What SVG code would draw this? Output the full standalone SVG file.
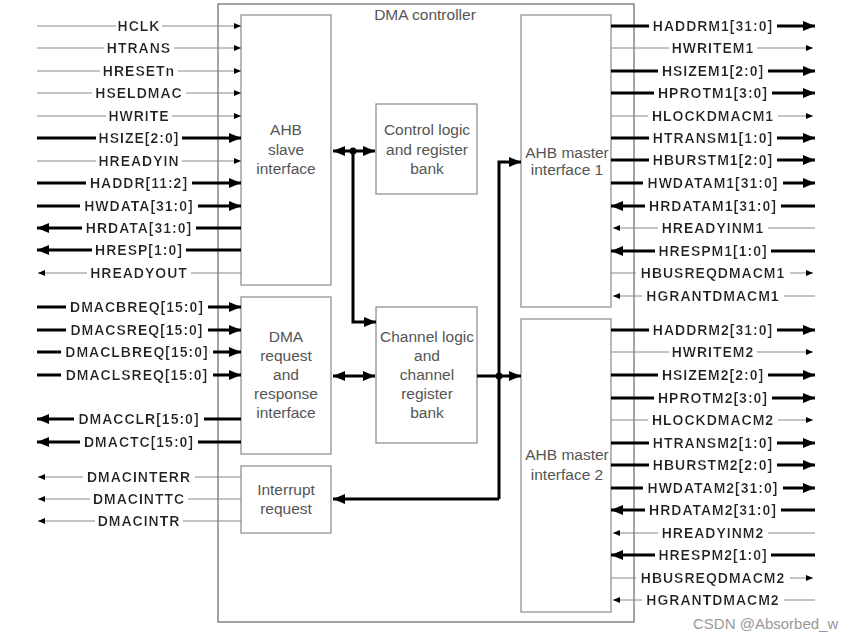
<svg xmlns="http://www.w3.org/2000/svg" width="853" height="640" viewBox="0 0 853 640">
<style>
.box{fill:#fff;stroke:#888;stroke-width:1.2}
.outer{fill:none;stroke:#666;stroke-width:1.2}
.in{font-family:"Liberation Sans",Arial,sans-serif;font-size:15.5px;fill:#555;text-anchor:middle}
.sig{font-family:"Liberation Sans",Arial,sans-serif;font-size:14px;font-weight:bold;fill:#222;text-anchor:middle;letter-spacing:1px;filter:url(#bg)}
.thk{stroke:#000;stroke-width:3;fill:none}
.thn{stroke:#888;stroke-width:1;fill:none}
.ta{marker-end:url(#bigA)}
.na{marker-end:url(#smA)}
.wm{font-family:"Liberation Sans",Arial,sans-serif;font-size:15px;fill:#999}
</style>
<defs>
<filter id="bg" x="-0.03" y="-0.05" width="1.06" height="1.1"><feFlood flood-color="#fff"/><feComposite in="SourceGraphic"/></filter>
<marker id="bigA" markerUnits="userSpaceOnUse" markerWidth="13" markerHeight="11" refX="12" refY="5" orient="auto-start-reverse"><path d="M0,0 L12,5 L0,10 z" fill="#000"/></marker>
<marker id="smA" markerUnits="userSpaceOnUse" markerWidth="8" markerHeight="7" refX="7" refY="3" orient="auto-start-reverse"><path d="M0,0 L7,3 L0,6 z" fill="#000"/></marker>
</defs>
<rect width="853" height="640" fill="#fff"/>
<g id="dma-controller"><rect class="outer" x="218" y="4" width="416" height="618"/><text class="in" x="425" y="20">DMA controller</text></g>
<g id="ahb-slave"><rect class="box" x="241" y="15" width="90" height="270"/><text class="in" x="286" y="135">AHB</text><text class="in" x="286" y="155">slave</text><text class="in" x="286" y="174">interface</text></g>
<g id="dma-request"><rect class="box" x="241" y="297" width="90" height="157"/><text class="in" x="286" y="342">DMA</text><text class="in" x="286" y="361">request</text><text class="in" x="286" y="380">and</text><text class="in" x="286" y="399">response</text><text class="in" x="286" y="418">interface</text></g>
<g id="interrupt-request"><rect class="box" x="241" y="466" width="90" height="67"/><text class="in" x="286" y="495">Interrupt</text><text class="in" x="286" y="514">request</text></g>
<g id="control-logic"><rect class="box" x="376" y="104" width="101" height="90"/><text class="in" x="427" y="135">Control logic</text><text class="in" x="427" y="155">and register</text><text class="in" x="427" y="174">bank</text></g>
<g id="channel-logic"><rect class="box" x="376" y="307" width="101" height="136"/><text class="in" x="427" y="342">Channel logic</text><text class="in" x="427" y="361">and</text><text class="in" x="427" y="380">channel</text><text class="in" x="427" y="399">register</text><text class="in" x="427" y="418">bank</text></g>
<g id="ahb-master-1"><rect class="box" x="521" y="15" width="90" height="292"/><text class="in" x="567" y="158">AHB master</text><text class="in" x="567" y="175">interface 1</text></g>
<g id="ahb-master-2"><rect class="box" x="521" y="319" width="90" height="293"/><text class="in" x="567" y="460">AHB master</text><text class="in" x="567" y="480">interface 2</text></g>
<g id="connectors">
<path class="thk" d="M333,151 H375" marker-start="url(#bigA)" marker-end="url(#bigA)"/>
<path class="thk ta" d="M353,151 V322 H376"/>
<circle cx="353" cy="151" r="3.5"/>
<path class="thk" d="M333,376 H375" marker-start="url(#bigA)" marker-end="url(#bigA)"/>
<path class="thk ta" d="M477,376 H521"/>
<path class="thk ta" d="M499,499 V162 H521"/>
<path class="thk ta" d="M499,499 H333"/>
<circle cx="499" cy="376" r="3.5"/>
<path class="thn na" d="M37,26 H241"/><path class="thn na" d="M37,48 H241"/><path class="thn na" d="M37,71 H241"/><path class="thn na" d="M37,93 H241"/><path class="thn na" d="M37,116 H241"/>
<path class="thk ta" d="M37,138 H241"/><path class="thn na" d="M37,161 H241"/><path class="thk ta" d="M37,183 H241"/><path class="thk ta" d="M37,206 H241"/>
<path class="thk ta" d="M241,228 H37"/><path class="thk ta" d="M241,250 H37"/><path class="thn na" d="M241,273 H38"/>
<path class="thk ta" d="M37,307 H241"/><path class="thk ta" d="M37,330 H241"/><path class="thk ta" d="M37,352 H241"/><path class="thk ta" d="M37,375 H241"/>
<path class="thk ta" d="M241,419 H37"/><path class="thk ta" d="M241,442 H37"/>
<path class="thn na" d="M241,477 H38"/><path class="thn na" d="M241,499 H38"/><path class="thn na" d="M241,521 H38"/>
<path class="thk ta" d="M611,26 H815"/><path class="thn na" d="M611,48 H813"/><path class="thk ta" d="M611,71 H815"/><path class="thk ta" d="M611,93 H815"/><path class="thn na" d="M611,116 H813"/><path class="thk ta" d="M611,138 H815"/><path class="thk ta" d="M611,160 H815"/><path class="thk ta" d="M611,183 H815"/>
<path class="thk ta" d="M815,206 H611"/><path class="thn na" d="M815,228 H613"/><path class="thk ta" d="M815,251 H611"/><path class="thn na" d="M611,273 H813"/><path class="thn na" d="M815,296 H613"/>
<path class="thk ta" d="M611,330 H815"/><path class="thn na" d="M611,352 H813"/><path class="thk ta" d="M611,375 H815"/><path class="thk ta" d="M611,398 H815"/><path class="thn na" d="M611,420 H813"/><path class="thk ta" d="M611,443 H815"/><path class="thk ta" d="M611,465 H815"/><path class="thk ta" d="M611,488 H815"/>
<path class="thk ta" d="M815,510 H611"/><path class="thn na" d="M815,533 H613"/><path class="thk ta" d="M815,555 H611"/><path class="thn na" d="M611,578 H813"/><path class="thn na" d="M815,600 H613"/>
</g>
<g id="signal-labels">
<text class="sig" x="139" y="31">HCLK</text><text class="sig" x="139" y="53">HTRANS</text><text class="sig" x="139" y="76">HRESETn</text><text class="sig" x="139" y="98">HSELDMAC</text><text class="sig" x="139" y="121">HWRITE</text><text class="sig" x="139" y="143">HSIZE[2:0]</text><text class="sig" x="139" y="166">HREADYIN</text><text class="sig" x="139" y="188">HADDR[11:2]</text><text class="sig" x="139" y="211">HWDATA[31:0]</text><text class="sig" x="139" y="233">HRDATA[31:0]</text><text class="sig" x="139" y="255">HRESP[1:0]</text><text class="sig" x="139" y="278">HREADYOUT</text>
<text class="sig" x="137" y="312">DMACBREQ[15:0]</text><text class="sig" x="137" y="335">DMACSREQ[15:0]</text><text class="sig" x="137" y="357">DMACLBREQ[15:0]</text><text class="sig" x="137" y="380">DMACLSREQ[15:0]</text><text class="sig" x="139" y="424">DMACCLR[15:0]</text><text class="sig" x="139" y="447">DMACTC[15:0]</text><text class="sig" x="139" y="482">DMACINTERR</text><text class="sig" x="139" y="504">DMACINTTC</text><text class="sig" x="139" y="526">DMACINTR</text>
<text class="sig" x="713" y="31">HADDRM1[31:0]</text><text class="sig" x="713" y="53">HWRITEM1</text><text class="sig" x="713" y="76">HSIZEM1[2:0]</text><text class="sig" x="713" y="98">HPROTM1[3:0]</text><text class="sig" x="713" y="121">HLOCKDMACM1</text><text class="sig" x="713" y="143">HTRANSM1[1:0]</text><text class="sig" x="713" y="165">HBURSTM1[2:0]</text><text class="sig" x="713" y="188">HWDATAM1[31:0]</text><text class="sig" x="713" y="211">HRDATAM1[31:0]</text><text class="sig" x="713" y="233">HREADYINM1</text><text class="sig" x="713" y="256">HRESPM1[1:0]</text><text class="sig" x="713" y="278">HBUSREQDMACM1</text><text class="sig" x="713" y="301">HGRANTDMACM1</text>
<text class="sig" x="713" y="335">HADDRM2[31:0]</text><text class="sig" x="713" y="357">HWRITEM2</text><text class="sig" x="713" y="380">HSIZEM2[2:0]</text><text class="sig" x="713" y="403">HPROTM2[3:0]</text><text class="sig" x="713" y="425">HLOCKDMACM2</text><text class="sig" x="713" y="448">HTRANSM2[1:0]</text><text class="sig" x="713" y="470">HBURSTM2[2:0]</text><text class="sig" x="713" y="493">HWDATAM2[31:0]</text><text class="sig" x="713" y="515">HRDATAM2[31:0]</text><text class="sig" x="713" y="538">HREADYINM2</text><text class="sig" x="713" y="560">HRESPM2[1:0]</text><text class="sig" x="713" y="583">HBUSREQDMACM2</text><text class="sig" x="713" y="605">HGRANTDMACM2</text>
</g>
<text class="wm" x="693" y="629">CSDN @Absorbed_w</text>
</svg>
